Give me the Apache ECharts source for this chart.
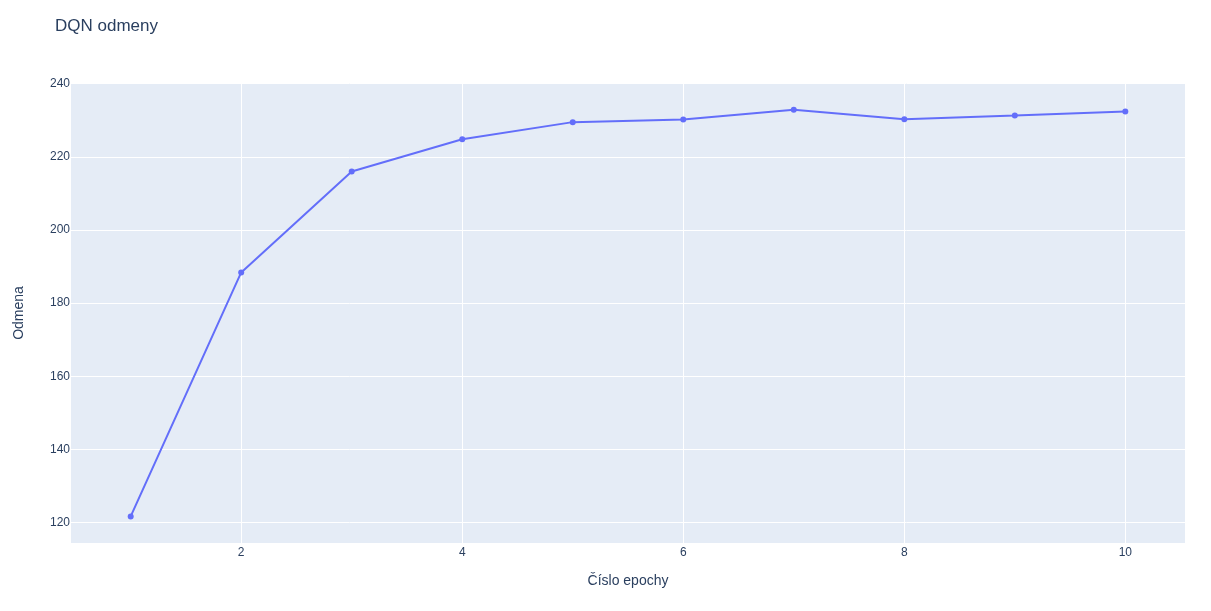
<!DOCTYPE html>
<html>
<head>
<meta charset="utf-8">
<script src="https://cdn.jsdelivr.net/npm/echarts@6/dist/echarts.min.js"></script>
<style>
html,body{margin:0;padding:0;background:#fff;}
#chart{width:1211px;height:611px;}
</style>
</head>
<body>
<div id="chart"></div>
<script>
const epochs = [1, 2, 3, 4, 5, 6, 7, 8, 9, 10];
const rewards = [121.7, 188.4, 216.0, 224.8, 229.5, 230.2, 232.9, 230.3, 231.3, 232.4];
const xTicks = [2, 4, 6, 8, 10];
const yTicks = [120, 140, 160, 180, 200, 220, 240];

const font = 'Liberation Sans, Arial, sans-serif';
const txt = '#2a3f5f';
const chart = echarts.init(document.getElementById('chart'), null, {renderer: 'canvas'});
chart.setOption({
  animation: false,
  backgroundColor: '#ffffff',
  title: {
    text: 'DQN odmeny',
    left: 55, top: 18, padding: 0,
    textStyle: {fontFamily: font, fontSize: 17, fontWeight: 'normal', color: txt}
  },
  grid: {
    left: 71, right: 26, top: 83, bottom: 68,
    show: true, backgroundColor: '#E5ECF6', borderWidth: 0
  },
  xAxis: {
    type: 'value',
    min: 0.46, max: 10.54,
    name: 'Číslo epochy',
    nameLocation: 'middle',
    nameGap: 31,
    nameTextStyle: {fontFamily: font, fontSize: 14, color: txt},
    axisLine: {show: false},
    axisTick: {show: false, customValues: xTicks},
    axisLabel: {customValues: xTicks, fontFamily: font, fontSize: 12, color: txt, margin: 4},
    splitLine: {show: true, lineStyle: {color: '#ffffff', width: 1}}
  },
  yAxis: {
    type: 'value',
    min: 114.42, max: 240.2,
    name: 'Odmena',
    nameLocation: 'middle',
    nameRotate: 90,
    nameGap: 45,
    nameTextStyle: {fontFamily: font, fontSize: 14, color: txt},
    axisLine: {show: false},
    axisTick: {show: false, customValues: yTicks},
    axisLabel: {customValues: yTicks, fontFamily: font, fontSize: 12, color: txt, margin: 1},
    splitLine: {show: true, lineStyle: {color: '#ffffff', width: 1}}
  },
  series: [{
    type: 'line',
    data: epochs.map((e, i) => [e, rewards[i]]),
    symbol: 'circle',
    symbolSize: 6,
    showAllSymbol: true,
    lineStyle: {color: '#636efa', width: 2},
    itemStyle: {color: '#636efa'}
  }]
});
</script>
</body>
</html>
